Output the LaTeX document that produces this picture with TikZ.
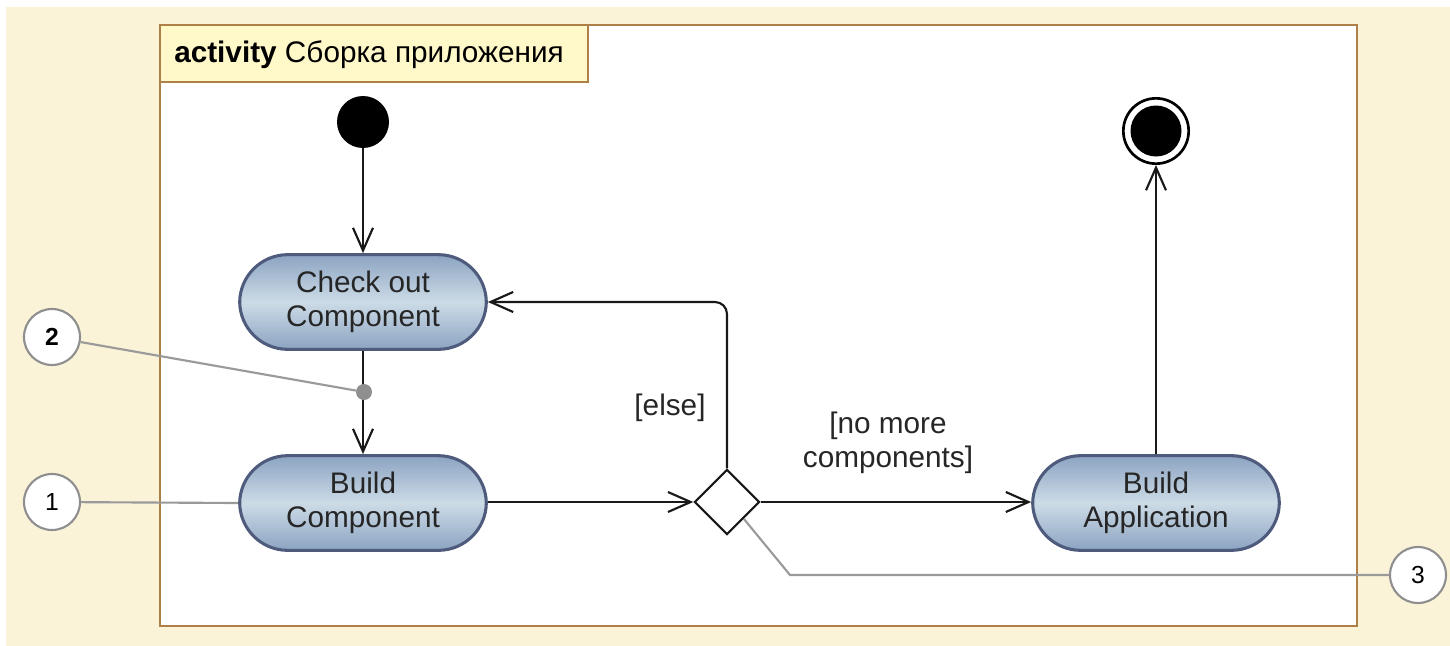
\documentclass[tikz,border=0pt]{standalone}
\usepackage{fontspec}
\setmainfont{Liberation Sans}
\usetikzlibrary{arrows.meta,shapes.geometric}
\definecolor{pagebg}{HTML}{FAF3D8}
\definecolor{framebrown}{HTML}{AE8048}
\definecolor{tabfill}{HTML}{FFF8C9}
\definecolor{actborder}{HTML}{4F5B7C}
\definecolor{actedge}{HTML}{8CA4C2}
\definecolor{actmid}{HTML}{CCDBE6}
\definecolor{notegray}{HTML}{8F8F8F}
\tikzset{
  x=0.75pt, y=-0.75pt,
  action/.style={rectangle, rounded corners=36pt, draw=actborder, line width=2.3pt,
    top color=actedge, bottom color=actedge, middle color=actmid,
    minimum width=185pt, minimum height=71pt, align=center, inner sep=0pt,
    font=\fontsize{22.3}{25.5}\selectfont, text=black!85},
  flow/.style={line width=1.6pt, draw=black!90, -{Straight Barb[length=17pt,width=15pt,line width=1.6pt]}},
  guard/.style={font=\fontsize{22.3}{25.5}\selectfont, align=center, text=black!85},
  callout/.style={circle, draw=notegray, line width=1.6pt, fill=white, minimum size=42pt,
    inner sep=0pt, font=\fontsize{18.5}{20}\selectfont},
  calloutline/.style={draw=notegray!90, line width=1.6pt},
}
\begin{document}
\begin{tikzpicture}
  % page background and bounds
  \useasboundingbox (0,0) rectangle (1450,646);
  \fill[white] (0,0) rectangle (1450,646);
  \fill[pagebg] (6,7) rectangle (1450,646);

  % activity frame with its name tab
  \draw[framebrown, line width=1.9pt, fill=white] (160,25) rectangle (1357,626);
  \draw[framebrown, line width=1.9pt, fill=tabfill] (160,25) rectangle (588,82);
  \node[anchor=west, font=\fontsize{22.3}{25.5}\selectfont, inner sep=0pt] (title) at (174,55)
    {\textbf{activity} Сборка приложения};

  % initial and final nodes
  \node[circle, fill=black, minimum size=39pt, inner sep=0pt] (init) at (363,122) {};
  \node[circle, draw=black, line width=2pt, minimum size=49pt, inner sep=0pt] (final) at (1156,131) {};
  \fill[black] (final.center) circle (25.5);

  % actions
  \node[action] (checkout) at (363,302) {Check out\\Component};
  \node[action] (buildcomp) at (363,503) {Build\\Component};
  \node[action] (buildapp) at (1156,503) {Build\\Application};

  % decision
  \node[diamond, draw=black!90, line width=1.6pt, fill=white, minimum width=49pt,
        minimum height=49pt, inner sep=0pt] (dec) at (727,502) {};

  % control flows
  \draw[flow] (init) -- (checkout);
  \draw[flow] (checkout) -- (buildcomp);
  \draw[flow] (buildcomp.east |- dec.west) -- (dec.west);
  \draw[flow, rounded corners=9pt] (dec.north) |- (checkout.east);
  \draw[flow] (dec.east) -- (buildapp.west |- dec.east);
  \draw[flow] (buildapp.north) -- (final.south);

  % guards
  \node[guard] (elselbl) at (670,408) {[else]};
  \node[guard] (nomore) at (888,443) {[no more\\components]};

  % annotation marker on the flow
  \node[circle, fill=notegray, minimum size=12pt, inner sep=0pt] (dot) at (364,392) {};

  % numbered callouts
  \node[callout] (c1) at (52,502) {1};
  \node[callout] (c2) at (52,337) {\textbf{2}};
  \node[callout] (c3) at (1418,575) {3};
  \draw[calloutline] (c1) -- (buildcomp.west);
  \draw[calloutline] (c2) -- (dot);
  \coordinate (bend3) at (790,575);
  \draw[calloutline] (c3.west) -- (bend3) -- (dec.south east);
\end{tikzpicture}
\end{document}
